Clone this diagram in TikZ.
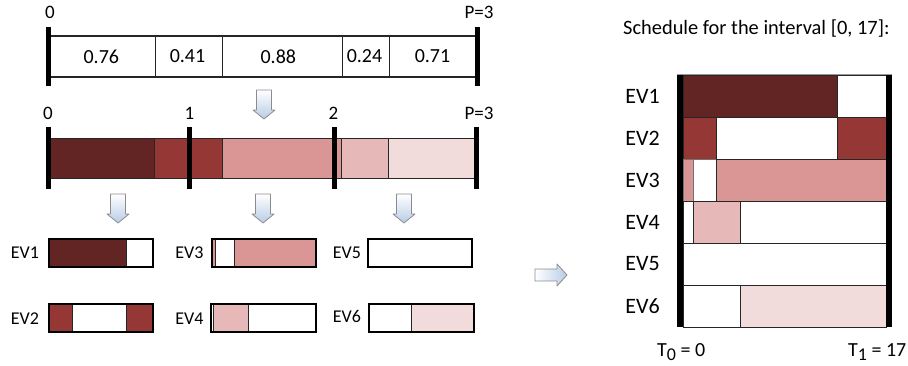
\documentclass[tikz,border=0pt]{standalone}
\usepackage{fontspec}
\setmainfont{Carlito}
\definecolor{evA}{HTML}{632523}
\definecolor{evB}{HTML}{953735}
\definecolor{evC}{HTML}{D99694}
\definecolor{evD}{HTML}{E6B9B8}
\definecolor{evE}{HTML}{F2DCDB}
\definecolor{arrowblue}{RGB}{184,204,230}
\newcommand\pxsize[1]{\fontsize{#1}{#1}\selectfont}
% block arrow pointing down, top centre at (#1,#2)
\newcommand\downblock[2]{%
  \shadedraw[blockarrow, top color=white, bottom color=arrowblue]
    (#1-7.5,#2) -- (#1+7.5,#2) -- (#1+7.5,#2+20) -- (#1+11,#2+20) --
    (#1,#2+29) -- (#1-11,#2+20) -- (#1-7.5,#2+20) -- cycle;}
\tikzset{
  seg/.style={draw=black!85, line width=0.9pt},
  smallbar/.style={draw=black, line width=1.6pt},
  fence/.style={draw=black, line width=5pt},
  tick/.style={inner sep=0pt, font=\pxsize{19}},
  val/.style={inner sep=0pt, font=\pxsize{20}},
  evsmall/.style={inner sep=0pt, font=\pxsize{18}},
  evbig/.style={inner sep=0pt, font=\pxsize{22}},
  blockarrow/.style={draw=black!45, line width=0.8pt, line join=round},
}
\begin{document}
\begin{tikzpicture}[x=1pt,y=-1pt]
\useasboundingbox (0,0) rectangle (908,366);

% ---------- weights on [0,P] ----------
\draw[seg, line width=1.2pt] (48,36) rectangle (477,77);
\foreach \d in {155,222,342,389} \draw[seg] (\d,36) -- (\d,77);
\node[val] (w1) at (101.3,56.5) {0.76};
\node[val] (w2) at (187.5,56) {0.41};
\node[val] (w3) at (278.3,56.5) {0.88};
\node[val] (w4) at (364.5,56.5) {0.24};
\node[val] (w5) at (432.5,56) {0.71};
\draw[fence] (48,27) -- (48,86);
\draw[fence] (477,27) -- (477,86);
\node[tick] (t0) at (50,12.5) {0};
\node[tick] (tP) at (479,12) {P=3};

\downblock{264}{90}

% ---------- wrapped onto processors ----------
\foreach \a/\b/\c in {48/154/evA, 154/189/evB, 189/222/evB, 222/334/evC,
                      334/341/evC, 341/388/evD, 388/476/evE}
  \draw[seg, fill=\c] (\a,138) rectangle (\b,178);
\foreach \f in {48,189,334,476} \draw[fence] (\f,127) -- (\f,189);
\node[tick] (m0) at (48,113) {0};
\node[tick] (m1) at (189.5,113) {1};
\node[tick] (m2) at (333.5,113) {2};
\node[tick] (mP) at (479,113) {P=3};

\downblock{118}{194}
\downblock{263}{194}
\downblock{404}{194}

% ---------- per-processor bars ----------
% EV1
\fill[evA] (49,239) rectangle (126,267);
\draw[seg] (126,239) -- (126,267);
\draw[smallbar] (49,239) rectangle (153,267);
% EV2
\fill[evB] (49,304) rectangle (72,332);
\fill[evB] (126,304) rectangle (153,332);
\draw[seg] (72,304) -- (72,332) (126,304) -- (126,332);
\draw[smallbar] (49,304) rectangle (153,332);
% EV3
\fill[evC] (212,239) rectangle (215,267);
\fill[evC] (234,239) rectangle (316,267);
\draw[seg] (215,239) -- (215,267) (234,239) -- (234,267);
\draw[smallbar] (212,239) rectangle (316,267);
% EV4
\fill[evD] (213,304) rectangle (248,332);
\draw[seg] (213,304) -- (213,332) (248,304) -- (248,332);
\draw[smallbar] (211,304) rectangle (316,332);
% EV5
\draw[smallbar] (368,239) rectangle (472,267);
% EV6
\fill[evE] (411,304) rectangle (474,332);
\draw[seg] (411,304) -- (411,332);
\draw[smallbar] (369,304) rectangle (474,332);

\node[evsmall] (s1) at (25,253) {EV1};
\node[evsmall] (s2) at (25,319) {EV2};
\node[evsmall] (s3) at (189.5,253) {EV3};
\node[evsmall] (s4) at (189.5,319) {EV4};
\node[evsmall] (s5) at (347,253) {EV5};
\node[evsmall] (s6) at (347,316) {EV6};

% ---------- arrow to schedule ----------
\shadedraw[blockarrow, left color=white, right color=arrowblue]
  (535,269) -- (557,269) -- (557,264) -- (567,275) -- (557,286) --
  (557,281) -- (535,281) -- cycle;

% ---------- schedule ----------
\node[inner sep=0pt, anchor=base west, font=\pxsize{20.4}] (title) at (623,35)
  {Schedule for the interval [0, 17]:};

\draw[black!40, line width=0.8pt] (677,74.5) -- (892,74.5);
% EV1
\draw[seg, fill=evA] (683,75) rectangle (837,117);
\draw[seg, fill=white] (837,75) rectangle (886,117);
% EV2
\draw[seg, fill=evB] (683,117) rectangle (716,159);
\draw[seg, fill=white] (716,117) rectangle (837,159);
\draw[seg, fill=evB] (837,117) rectangle (886,159);
% EV3
\draw[seg, draw=black!55, fill=evC] (683,159) rectangle (693,201);
\draw[seg, draw=black!55, fill=white] (693,159) rectangle (716,201);
\draw[seg, fill=evC] (716,159) rectangle (886,201);
% EV4
\draw[seg, fill=white] (683,201) rectangle (693,243);
\draw[seg, fill=evD] (693,201) rectangle (740,243);
\draw[seg, fill=white] (740,201) rectangle (886,243);
% EV5
\draw[seg, fill=white] (683,243) rectangle (886,285);
% EV6
\draw[seg, fill=white] (683,285) rectangle (740,327);
\draw[seg, fill=evE] (740,285) rectangle (886,327);

\draw[black, line width=6pt] (679.7,75) -- (679.7,327);
\draw[black, line width=6pt] (888.7,75) -- (888.7,327);

\foreach \i in {1,...,6}
  \node[evbig] (r\i) at (642.5,{54+42*\i}) {EV\i};

\node[inner sep=0pt, anchor=base west, font=\pxsize{20}] (T0) at (657,356)
  {T\raisebox{-4pt}{\pxsize{18}0} = 0};
\node[inner sep=0pt, anchor=base west, font=\pxsize{20}] (T1) at (848,356)
  {T\raisebox{-4pt}{\pxsize{18}1} = 17};
\end{tikzpicture}
\end{document}
